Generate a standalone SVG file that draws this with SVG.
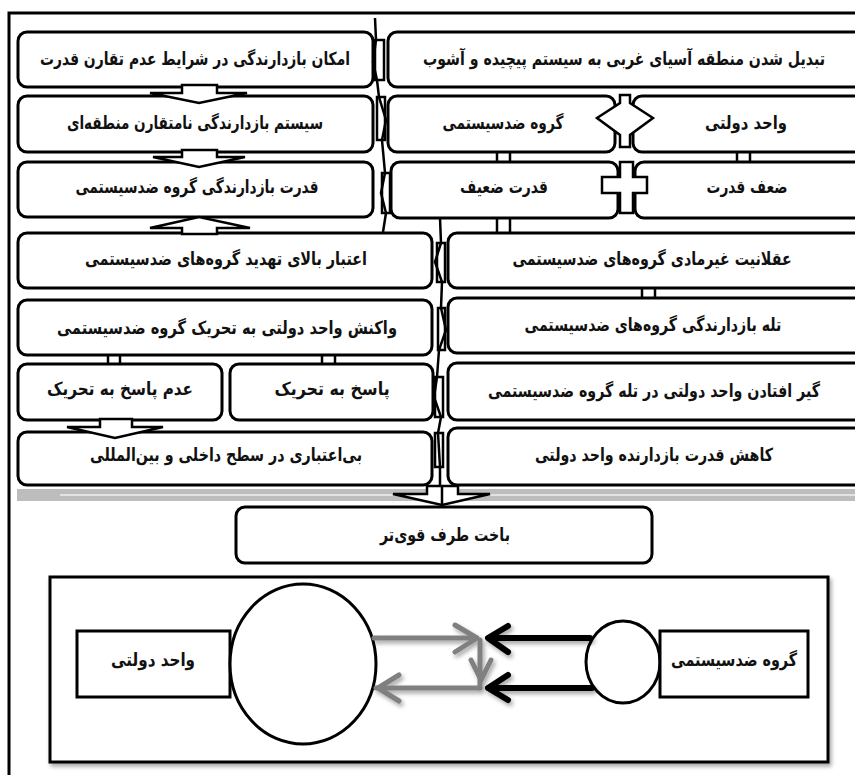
<svg xmlns="http://www.w3.org/2000/svg" width="855" height="775" viewBox="0 0 855 775">
<defs>
<style>
.box{fill:#fff;stroke:#000;stroke-width:3}
.t{font-family:"DejaVu Sans","Liberation Sans",sans-serif;font-weight:bold;font-size:18px;text-anchor:middle;fill:#111}
.blk{fill:#fff;stroke:#000;stroke-width:2.5;stroke-linejoin:miter}
.dl{stroke:#000;stroke-width:2.5}
.sp{fill:none;stroke:#000;stroke-width:2.5}
.sr{fill:#fff;stroke:#000;stroke-width:2.5}
.ga{fill:none;stroke:#808080;stroke-width:5;stroke-linecap:round;stroke-linejoin:round}
.ba{fill:none;stroke:#000;stroke-width:6;stroke-linecap:round;stroke-linejoin:round}
</style>
<filter id="sh" x="-20%" y="-20%" width="140%" height="160%">
<feDropShadow dx="2" dy="3" stdDeviation="2" flood-color="#000" flood-opacity="0.35"/>
</filter>
</defs>
<rect x="9" y="13" width="870" height="800" fill="#fff" stroke="#000" stroke-width="3"/>

<g id="L1"><rect class="box" x="18" y="32" width="355" height="55" rx="9"/><text class="t" transform="translate(195,65) scale(0.8,1)" textLength="387.5" lengthAdjust="spacingAndGlyphs">امکان بازدارندگی در شرایط عدم تقارن قدرت</text></g>
<g id="L2"><rect class="box" x="18" y="96" width="355" height="56" rx="9"/><text class="t" transform="translate(195,129) scale(0.8,1)" textLength="320" lengthAdjust="spacingAndGlyphs">سیستم بازدارندگی نامتقارن منطقه‌ای</text></g>
<g id="L3"><rect class="box" x="18" y="162" width="355" height="55" rx="9"/><text class="t" transform="translate(197,193) scale(0.8,1)" textLength="304" lengthAdjust="spacingAndGlyphs">قدرت بازدارندگی گروه ضدسیستمی</text></g>
<g id="L4"><rect class="box" x="18" y="233" width="414" height="55" rx="9"/><text class="t" transform="translate(226,265) scale(0.8,1)" textLength="352.5" lengthAdjust="spacingAndGlyphs">اعتبار بالای تهدید گروه‌های ضدسیستمی</text></g>
<g id="L5"><rect class="box" x="18" y="300" width="414" height="55" rx="9"/><text class="t" transform="translate(227,334) scale(0.8,1)" textLength="425" lengthAdjust="spacingAndGlyphs">واکنش واحد دولتی به تحریک گروه ضدسیستمی</text></g>
<g id="L6a"><rect class="box" x="18" y="364" width="204" height="56" rx="9"/><text class="t" transform="translate(120,395) scale(0.8,1)" textLength="182.5" lengthAdjust="spacingAndGlyphs">عدم پاسخ به تحریک</text></g>
<g id="L6b"><rect class="box" x="230" y="364" width="203" height="56" rx="9"/><text class="t" transform="translate(332,395) scale(0.8,1)" textLength="144" lengthAdjust="spacingAndGlyphs">پاسخ به تحریک</text></g>
<g id="L7"><rect class="box" x="18" y="432" width="414" height="53" rx="9"/><text class="t" transform="translate(226,461) scale(0.8,1)" textLength="340" lengthAdjust="spacingAndGlyphs">بی‌اعتباری در سطح داخلی و بین‌المللی</text></g>

<g id="R1"><rect class="box" x="388" y="32" width="490" height="55" rx="9"/><text class="t" transform="translate(624,65) scale(0.8,1)" textLength="502.5" lengthAdjust="spacingAndGlyphs">تبدیل شدن منطقه آسیای غربی به سیستم پیچیده و آشوب</text></g>
<g id="R2a"><rect class="box" x="388" y="96" width="227" height="56" rx="9"/><text class="t" transform="translate(503,129) scale(0.8,1)" textLength="151" lengthAdjust="spacingAndGlyphs">گروه ضدسیستمی</text></g>
<g id="R2b"><rect class="box" x="633" y="96" width="245" height="56" rx="9"/><text class="t" transform="translate(746,129) scale(0.8,1)" textLength="102.5" lengthAdjust="spacingAndGlyphs">واحد دولتی</text></g>
<g id="R3a"><rect class="box" x="391" y="162" width="227" height="56" rx="9"/><text class="t" transform="translate(504,193) scale(0.8,1)" textLength="110" lengthAdjust="spacingAndGlyphs">قدرت ضعیف</text></g>
<g id="R3b"><rect class="box" x="635" y="162" width="243" height="56" rx="9"/><text class="t" transform="translate(747,193) scale(0.8,1)" textLength="101" lengthAdjust="spacingAndGlyphs">ضعف قدرت</text></g>
<g id="R4"><rect class="box" x="448" y="233" width="430" height="55" rx="9"/><text class="t" transform="translate(652,265) scale(0.8,1)" textLength="349" lengthAdjust="spacingAndGlyphs">عقلانیت غیرمادی گروه‌های ضدسیستمی</text></g>
<g id="R5"><rect class="box" x="448" y="298" width="430" height="55" rx="9"/><text class="t" transform="translate(653,331) scale(0.8,1)" textLength="321" lengthAdjust="spacingAndGlyphs">تله بازدارندگی گروه‌های ضدسیستمی</text></g>
<g id="R6"><rect class="box" x="448" y="363" width="430" height="57" rx="9"/><text class="t" transform="translate(654,397) scale(0.8,1)" textLength="415" lengthAdjust="spacingAndGlyphs">گیر افتادن واحد دولتی در تله گروه ضدسیستمی</text></g>
<g id="R7"><rect class="box" x="448" y="428" width="430" height="57" rx="9"/><text class="t" transform="translate(654,461) scale(0.8,1)" textLength="297.5" lengthAdjust="spacingAndGlyphs">کاهش قدرت بازدارنده واحد دولتی</text></g>

<rect x="17" y="489" width="850" height="12" fill="#bdbdbd"/>
<line x1="60" y1="495" x2="855" y2="495" stroke="#e2e2e2" stroke-width="2"/>

<g id="C"><rect class="box" x="236" y="507" width="416" height="56" rx="9"/><text class="t" transform="translate(445,541) scale(0.8,1)" textLength="162.5" lengthAdjust="spacingAndGlyphs">باخت طرف قوی‌تر</text></g>

<g id="connectors">
<polygon class="blk" points="182,85 217,85 217,93 247,93 199,103 150,93 182,93"/>
<polygon class="blk" points="182,150 217,150 217,157 245,157 199,167 153,157 182,157"/>
<polygon class="blk" points="182,234 182,228 150,228 199,217 250,228 217,228 217,234"/>
<polygon class="blk" points="100,419 132,419 132,427 163,427 115,438 67,427 100,427"/>
<polygon class="blk" points="597,118 620,103 620,95 630,95 630,103 653,118 630,135 630,147 620,147 620,135"/>
<polygon class="blk" points="620,162 633,162 633,177 647,177 647,193 633,193 633,213 620,213 620,193 602,193 602,177 620,177"/>
<line class="dl" x1="108" y1="355" x2="108" y2="364"/><line class="dl" x1="120" y1="355" x2="120" y2="364"/>
<line class="dl" x1="322" y1="355" x2="322" y2="364"/><line class="dl" x1="335" y1="355" x2="335" y2="364"/>
<line class="dl" x1="497" y1="152" x2="497" y2="162"/><line class="dl" x1="510" y1="152" x2="510" y2="162"/>
<line class="dl" x1="737" y1="152" x2="737" y2="162"/><line class="dl" x1="750" y1="152" x2="750" y2="162"/>
<line class="dl" x1="497" y1="218" x2="497" y2="233"/><line class="dl" x1="510" y1="218" x2="510" y2="233"/>
<line class="dl" x1="642" y1="288" x2="642" y2="298"/><line class="dl" x1="655" y1="288" x2="655" y2="298"/>
<rect class="sr" x="375" y="40" width="9" height="40"/>
<rect class="sr" x="377" y="97" width="8" height="43"/>
<rect class="sr" x="382" y="173" width="8" height="40"/>
<polyline class="sp" points="375,18 376,40 373,62 377,80 379,97 386,120 382,140 385,173 381,193 386,213 383,232"/>
<rect class="sr" x="437" y="243" width="8" height="39"/>
<rect class="sr" x="438" y="308" width="7" height="42"/>
<rect class="sr" x="435" y="377" width="8" height="40"/>
<rect class="sr" x="435" y="433" width="8" height="34"/>
<polyline class="sp" points="440,218 441,243 435,262 442,282 441,308 446,330 439,350 437,377 434,397 441,417 438,433 440,467 440,488"/>
<polygon class="blk" points="427,486 458,486 458,494 490,494 442,505 393,494 427,494"/>
<line class="dl" x1="442" y1="486" x2="442" y2="504"/>
</g>

<rect x="50" y="577" width="778" height="185" fill="#fff" stroke="#000" stroke-width="3" filter="url(#sh)"/>
<g id="B1"><rect x="77" y="631" width="153" height="66" fill="#fff" stroke="#000" stroke-width="3"/><text class="t" transform="translate(153,666) scale(0.8,1)" textLength="105" lengthAdjust="spacingAndGlyphs">واحد دولتی</text></g>
<g id="E1"><ellipse cx="303" cy="664" rx="73" ry="80" fill="#fff" stroke="#000" stroke-width="3"/></g>
<g id="E2"><ellipse cx="623" cy="662" rx="37" ry="41" fill="#fff" stroke="#000" stroke-width="3"/></g>
<g id="B2"><rect x="660" y="631" width="148" height="66" fill="#fff" stroke="#000" stroke-width="3"/><text class="t" transform="translate(734,666) scale(0.8,1)" textLength="157.5" lengthAdjust="spacingAndGlyphs">گروه ضدسیستمی</text></g>
<g id="arrows" filter="url(#sh)">
<line class="ga" x1="374" y1="638" x2="476" y2="638"/>
<polyline class="ga" points="455,625 477,638 455,652"/>
<line class="ga" x1="480" y1="640" x2="480" y2="688"/>
<polyline class="ga" points="471,660 481,680 491,660"/>
<line class="ga" x1="480" y1="688" x2="376" y2="688"/>
<polyline class="ga" points="399,675 378,688 399,701"/>
<line class="ba" x1="590" y1="638" x2="489" y2="638"/>
<polyline class="ba" points="508,626 488,638 508,652"/>
<line class="ba" x1="592" y1="688" x2="489" y2="688"/>
<polyline class="ba" points="508,675 488,688 508,700"/>
</g>
</svg>
